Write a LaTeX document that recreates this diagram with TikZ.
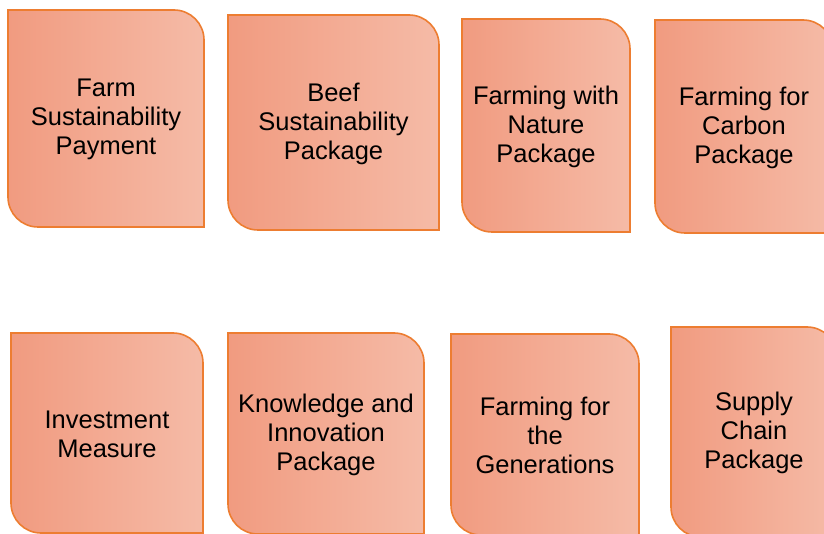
\documentclass[tikz,border=0pt]{standalone}
\usepackage{fontspec}
\setmainfont{Liberation Sans}
\definecolor{shadeL}{RGB}{241,155,128}
\definecolor{shadeR}{RGB}{245,187,167}
\definecolor{edgeO}{RGB}{237,125,49}
\tikzset{
  pkgbox/.style={draw=edgeO, line width=1.6pt, left color=shadeL, right color=shadeR},
  pkgtext/.style={align=center, font=\fontsize{25.5}{29}\selectfont, text=black, inner sep=0pt}
}
\newcommand{\pkgshape}[6]{%
  \path[pkgbox] (#2,#3) -- ({#4-30},#3) arc[start angle=270,end angle=360,radius=30]
    -- (#4,#5) -- ({#2+30},#5) arc[start angle=90,end angle=180,radius=30] -- cycle;
  \node[pkgtext] (#1) at ({(#2+#4)/2},{(#3+#5)/2+1}) {#6};
}
\begin{document}
\begin{tikzpicture}[x=1pt,y=-1pt]
\useasboundingbox (0,0) rectangle (824,534);
\clip (0,0) rectangle (824,534);
\fill[white] (0,0) rectangle (824,534);
\pkgshape{fsp}{8}{10}{204}{227}{Farm\\Sustainability\\Payment}
\pkgshape{bsp}{228}{15}{439}{230}{Beef\\Sustainability\\Package}
\pkgshape{fwn}{462}{19}{630}{232}{Farming with\\Nature\\Package}
\pkgshape{ffc}{655}{20}{833}{233}{Farming for\\Carbon\\Package}
\pkgshape{inv}{11}{333}{203}{533}{Investment\\Measure}
\pkgshape{kip}{228}{333}{424}{534}{Knowledge and\\Innovation\\Package}
\pkgshape{ffg}{451}{334}{639}{535}{Farming for\\the\\Generations}
\pkgshape{scp}{671}{327}{837}{537}{Supply\\Chain\\Package}
\end{tikzpicture}
\end{document}
